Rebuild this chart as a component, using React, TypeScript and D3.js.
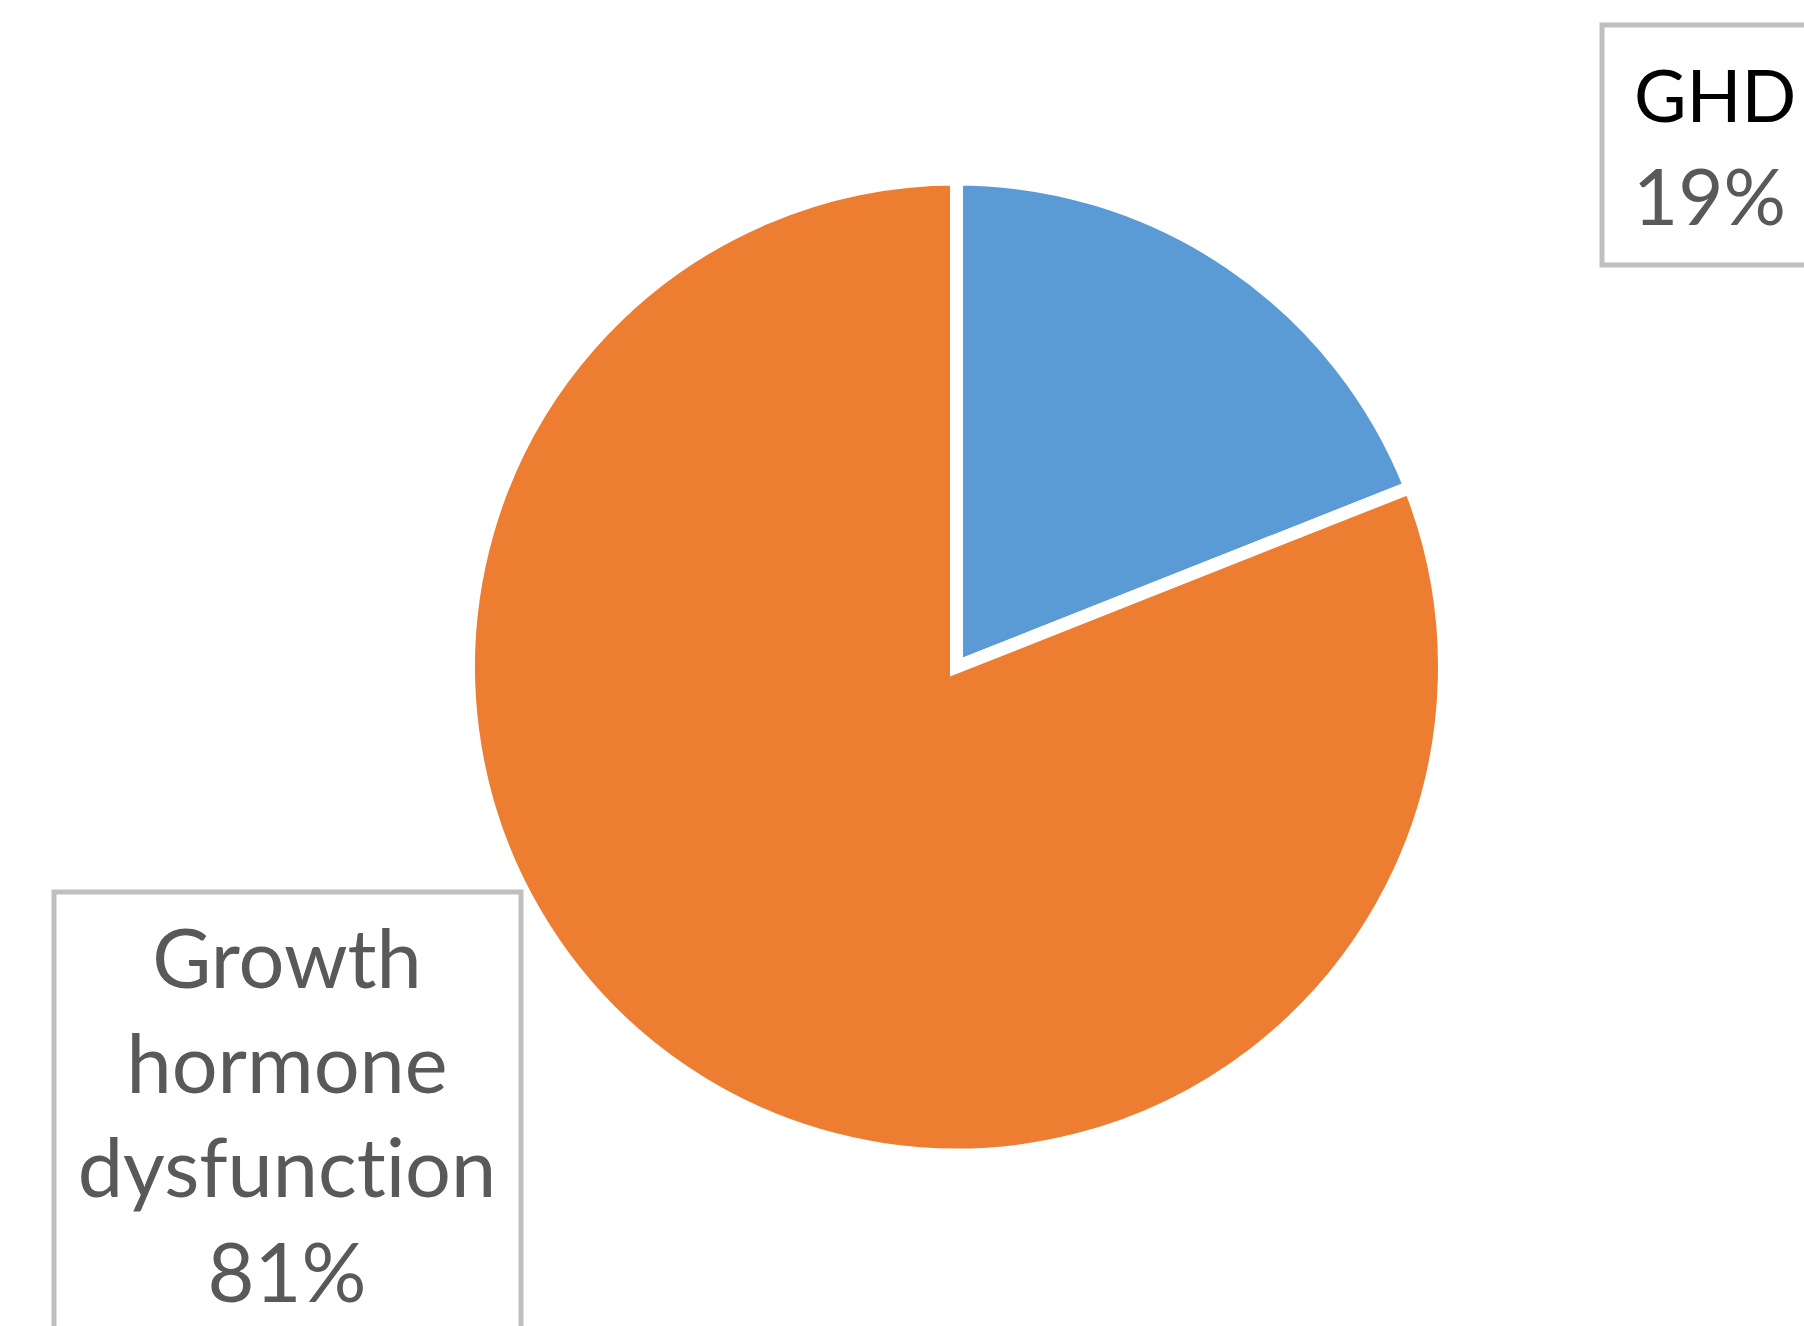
import React from "react";
import * as d3 from "d3";

const categories = ["GHD", "Growth hormone dysfunction"];
const values = [19, 81];
const labelLines = [["GHD", "19%"], ["Growth", "hormone", "dysfunction", "81%"]];
const colors = ["#5B9BD5", "#ED7D31"];

const W = 1804;
const H = 1326;

export default function App() {
  const cx = 956.5;
  const cy = 667;
  const r = 488;
  const pie = d3.pie<number>().sort(null).value((d) => d)(values);
  const arc = d3.arc<d3.PieArcDatum<number>>().innerRadius(0).outerRadius(r);
  const font = "Lato, 'Open Sans', sans-serif";
  const textStyle = { fontVariantLigatures: "none" as const };
  return (
    <svg width={W} height={H} style={{ position: "absolute", left: 0, top: 0, background: "#fff" }}>
      <g transform={`translate(${cx},${cy})`}>
        {pie.map((p, i) => (
          <path key={categories[i]} d={arc(p) || ""} fill={colors[i]} stroke="#fff" strokeWidth={13} strokeLinejoin="miter" />
        ))}
      </g>
      {/* GHD label */}
      <rect x={1602} y={25} width={300} height={240} fill="#fff" stroke="#bfbfbf" strokeWidth={5} />
      <text fontFamily={font} fontSize={72} style={textStyle} fill="#000">
        <tspan x={1634} y={122}>{labelLines[0][0]}</tspan>
      </text>
      <text fontFamily={font} fontSize={78} style={textStyle} fill="#595959">
        <tspan x={1633} y={225}>{labelLines[0][1]}</tspan>
      </text>
      {/* Growth hormone dysfunction label */}
      <rect x={54} y={892} width={467} height={500} fill="#fff" stroke="#bfbfbf" strokeWidth={5} />
      <text fontFamily={font} fontSize={81} fill="#595959" textAnchor="middle" style={textStyle}>
        {labelLines[1].map((t, i) => (
          <tspan key={t} x={287} y={988 + i * 104.7}>{t}</tspan>
        ))}
      </text>
    </svg>
  );
}
